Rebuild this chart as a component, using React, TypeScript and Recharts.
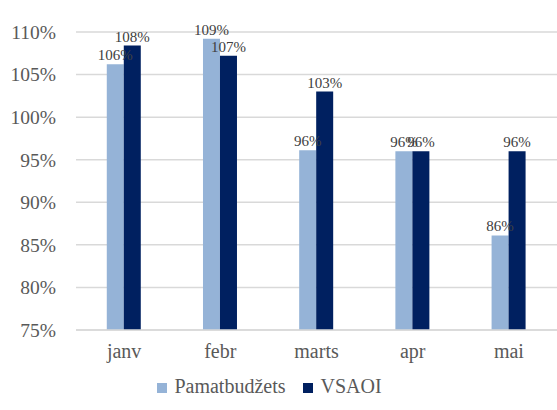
import React from 'react';
import { BarChart, Bar, XAxis, YAxis, CartesianGrid, Legend, LabelList } from 'recharts';

const months = ['janv', 'febr', 'marts', 'apr', 'mai'];
const pamatbudzets = [106.2, 109.2, 96.1, 96.0, 86.1];
const vsaoi = [108.4, 107.2, 103.0, 96.0, 96.0];
const yTicks = [75, 80, 85, 90, 95, 100, 105, 110];

const data = months.map((m, i) => ({ name: m, pamat: pamatbudzets[i], vsaoi: vsaoi[i] }));

const FONT = '"Liberation Serif", "Times New Roman", serif';

const css = `
.chart-wrap text, .chart-wrap .recharts-legend-item-text { font-family: ${FONT} !important; }
`;

const App: React.FC = () => {
  const pct = (v: any) => `${Math.round(Number(v))}%`;
  return (
    <div className="chart-wrap" style={{ position: 'absolute', left: 0, top: 0, width: 557, height: 410, background: '#fff', fontFamily: FONT }}>
      <style>{css}</style>
      <BarChart
        width={557}
        height={410}
        data={data}
        margin={{ top: 32, right: 0, left: 0, bottom: 0 }}
        barCategoryGap="32%"
        barGap={0}
      >
        <CartesianGrid vertical={false} stroke="#d9d9d9" strokeWidth={1.5} />
        <XAxis
          dataKey="name"
          axisLine={{ stroke: '#d9d9d9', strokeWidth: 1.5 }}
          tickLine={false}
          tick={{ fill: '#595959', fontSize: 20 }}
          tickMargin={8}
          height={30}
        />
        <YAxis
          domain={[75, 110]}
          ticks={yTicks}
          tickFormatter={(v: number) => `${v}%`}
          axisLine={false}
          tickLine={false}
          tick={{ fill: '#595959', fontSize: 19.5 }}
          tickMargin={14}
          width={76}
          allowDataOverflow
        />
        <Legend
          verticalAlign="bottom"
          height={50}
          iconType="square"
          iconSize={10}
          wrapperStyle={{ fontSize: 20, top: 375, fontFamily: FONT }}
          formatter={(value: string) => (
            <span style={{ color: '#595959', fontFamily: FONT, marginLeft: 3, marginRight: 8 }}>{value}</span>
          )}
        />
        <Bar dataKey="pamat" name="Pamatbudžets" fill="#95b3d7" isAnimationActive={false}>
          <LabelList dataKey="pamat" position="top" offset={4} formatter={pct} fill="#404040" fontSize={15} />
        </Bar>
        <Bar dataKey="vsaoi" name="VSAOI" fill="#002060" isAnimationActive={false}>
          <LabelList dataKey="vsaoi" position="top" offset={4} formatter={pct} fill="#404040" fontSize={15} />
        </Bar>
      </BarChart>
    </div>
  );
};

export default App;
